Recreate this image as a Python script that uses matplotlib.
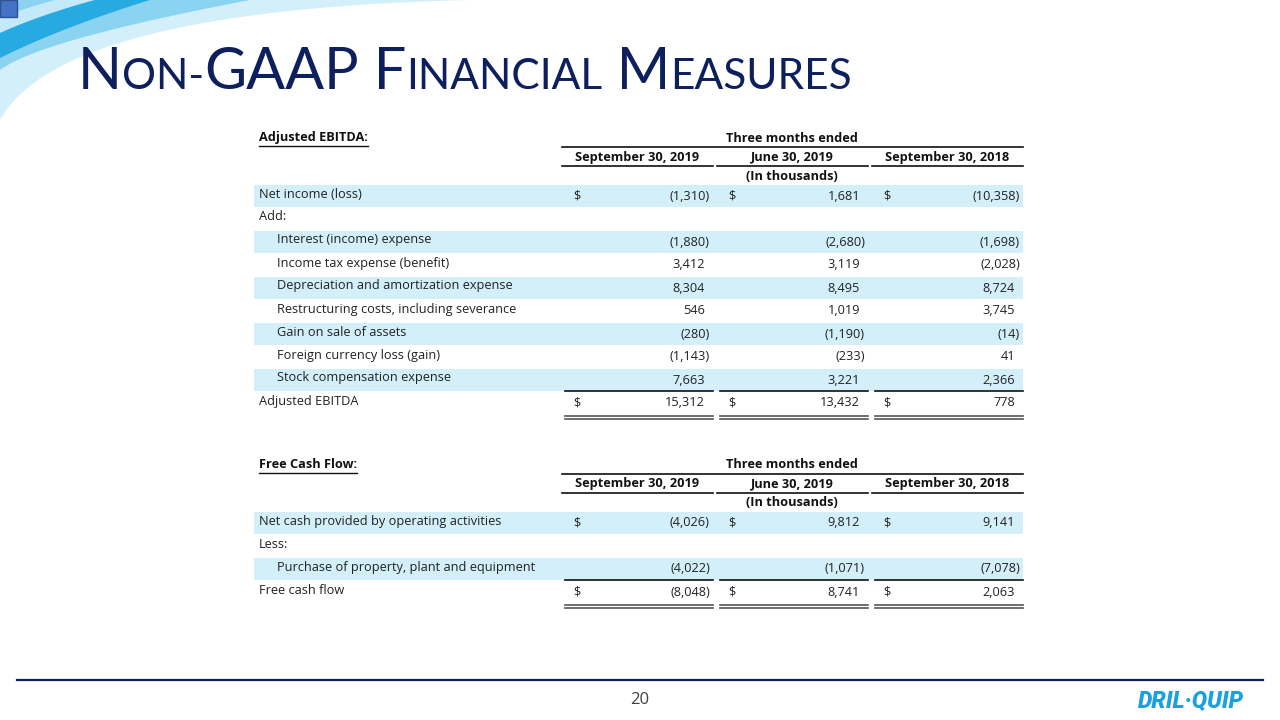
import numpy as np
import matplotlib
matplotlib.use("Agg")
from matplotlib import pyplot as plt
from matplotlib.patches import Polygon, Rectangle

# ---- data ----
col_headers = ["September 30, 2019", "June 30, 2019", "September 30, 2018"]

ebitda_labels = ["Net income (loss)", "Add:", "Interest (income) expense",
                 "Income tax expense (benefit)", "Depreciation and amortization expense",
                 "Restructuring costs, including severance", "Gain on sale of assets",
                 "Foreign currency loss (gain)", "Stock compensation expense",
                 "Adjusted EBITDA"]
ebitda_indent = [0, 0, 1, 1, 1, 1, 1, 1, 1, 0]
ebitda_shaded = [1, 0, 1, 0, 1, 0, 1, 0, 1, 0]
ebitda_dollar = [1, 0, 0, 0, 0, 0, 0, 0, 0, 1]
ebitda_sep2019 = [-1310, None, -1880, 3412, 8304, 546, -280, -1143, 7663, 15312]
ebitda_jun2019 = [1681, None, -2680, 3119, 8495, 1019, -1190, -233, 3221, 13432]
ebitda_sep2018 = [-10358, None, -1698, -2028, 8724, 3745, -14, 41, 2366, 778]

fcf_labels = ["Net cash provided by operating activities", "Less:",
              "Purchase of property, plant and equipment", "Free cash flow"]
fcf_indent = [0, 0, 1, 0]
fcf_shaded = [1, 0, 1, 0]
fcf_dollar = [1, 0, 0, 1]
fcf_sep2019 = [-4026, None, -4022, -8048]
fcf_jun2019 = [9812, None, -1071, 8741]
fcf_sep2018 = [9141, None, -7078, 2063]

# ---- style ----
NAVY = "#0d1f5c"
SHADE = "#d3effa"
BODY = "Open Sans"
segs = [(562, 713), (717, 868), (872, 1023)]

fig = plt.figure(figsize=(12.8, 7.2), dpi=100)
ax = fig.add_axes([0, 0, 1, 1])
ax.set_xlim(0, 1280)
ax.set_ylim(720, 0)
ax.axis("off")
renderer = fig.canvas.get_renderer()


def bezier(p0, p1, p2, n=60):
    t = np.linspace(0, 1, n)[:, None]
    return (1 - t) ** 2 * np.array(p0) + 2 * t * (1 - t) * np.array(p1) + t ** 2 * np.array(p2)


# decorative waves in the corner
light = np.vstack([[[0, 0], [470, 0]], bezier((470, 0), (60, 10), (0, 120))])
ax.add_patch(Polygon(light, closed=True, fc="#d2effa", ec="none"))
mid = np.vstack([[[0, 0], [250, 0]], bezier((250, 0), (40, 40), (0, 70))])
ax.add_patch(Polygon(mid, closed=True, fc="#8bd4f1", ec="none"))
strip = np.vstack([bezier((0, 18), (25, 8), (55, 0)), bezier((95, 0), (40, 15), (0, 33))])
ax.add_patch(Polygon(strip, closed=True, fc="#c4e9f8", ec="none"))
dark = np.vstack([bezier((0, 33), (40, 15), (95, 0)), bezier((150, 0), (60, 28), (0, 58))])
ax.add_patch(Polygon(dark, closed=True, fc="#27aae1", ec="none"))
ax.add_patch(Rectangle((0, 0), 17, 17, fc="#4472c4", ec="#2f528f", lw=1))

# title in small caps, pieces placed one after another
title_parts = [("N", 41.5), ("ON-", 30.5), ("GAAP", 41.5), (" F", 41.5), ("INANCIAL", 30.5),
               (" M", 41.5), ("EASURES", 30.5)]
x = 78
for txt, size in title_parts:
    t = ax.text(x, 89, txt, fontsize=size, family="Lato", color=NAVY,
                va="baseline", ha="left")
    x += t.get_window_extent(renderer).width


def fmt(v):
    if v is None:
        return ""
    if v < 0:
        return "({:,})".format(-v)
    return "{:,}".format(v)


def draw_table(y0, title, labels, indent, shaded, dollar, cols, fs=9.2):
    # title with underline
    t = ax.text(259, y0, title, fontsize=fs, family=BODY, weight="bold",
                va="center", ha="left", color="#111")
    w = t.get_window_extent(renderer).width
    ax.plot([259, 259 + w], [y0 + 8, y0 + 8], color="#111", lw=1)
    ax.text(792, y0, "Three months ended", fontsize=fs, family=BODY, weight="bold",
            va="center", ha="center", color="#111")
    ax.plot([562, 1023], [y0 + 9, y0 + 9], color="#111", lw=1.2)
    for (a, b), h in zip(segs, col_headers):
        ax.text((a + b) / 2, y0 + 19, h, fontsize=fs, family=BODY, weight="bold",
                va="center", ha="center", color="#111")
        ax.plot([a, b], [y0 + 28, y0 + 28], color="#111", lw=1.2)
    ax.text(792, y0 + 38, "(In thousands)", fontsize=fs, family=BODY, weight="bold",
            va="center", ha="center", color="#111")

    n = len(labels)
    for i in range(n):
        y = y0 + 58 + 23 * i
        if shaded[i]:
            ax.add_patch(Rectangle((254, y - 11), 1023 - 254, 22, fc=SHADE, ec="none"))
        ax.text(259 + 18 * indent[i], y - 2, labels[i], fontsize=fs, family=BODY,
                va="center", ha="left", color="#222")
        for (a, b), vals in zip(segs, cols):
            v = vals[i]
            if v is None:
                continue
            if dollar[i]:
                ax.text(a + 11, y, "$", fontsize=fs, family=BODY, va="center",
                        ha="left", color="#222")
            xr = b - 3 if v < 0 else b - 8
            ax.text(xr, y, fmt(v), fontsize=fs, family=BODY, va="center",
                    ha="right", color="#222")
    # total lines
    y_last = y0 + 58 + 23 * (n - 1)
    for a, b in segs:
        ax.plot([a + 3, b], [y_last - 12, y_last - 12], color="#111", lw=1.2)
        ax.plot([a + 3, b], [y_last + 13, y_last + 13], color="#555", lw=1.2)
        ax.plot([a + 3, b], [y_last + 16, y_last + 16], color="#555", lw=1.2)


draw_table(138, "Adjusted EBITDA:", ebitda_labels, ebitda_indent, ebitda_shaded,
           ebitda_dollar, [ebitda_sep2019, ebitda_jun2019, ebitda_sep2018])
draw_table(465, "Free Cash Flow:", fcf_labels, fcf_indent, fcf_shaded,
           fcf_dollar, [fcf_sep2019, fcf_jun2019, fcf_sep2018])

# footer
ax.plot([17, 1263], [680, 680], color=NAVY, lw=1.6)
ax.text(640, 700, "20", fontsize=12, family="Open Sans", color="#404040",
        va="center", ha="center")
ax.text(1191, 701, "DRIL·QUIP", fontsize=16.5, family="Roboto", weight="black",
        style="italic", color="#1ba1e2", va="center", ha="center")

fig.savefig("out.png", dpi=100)
